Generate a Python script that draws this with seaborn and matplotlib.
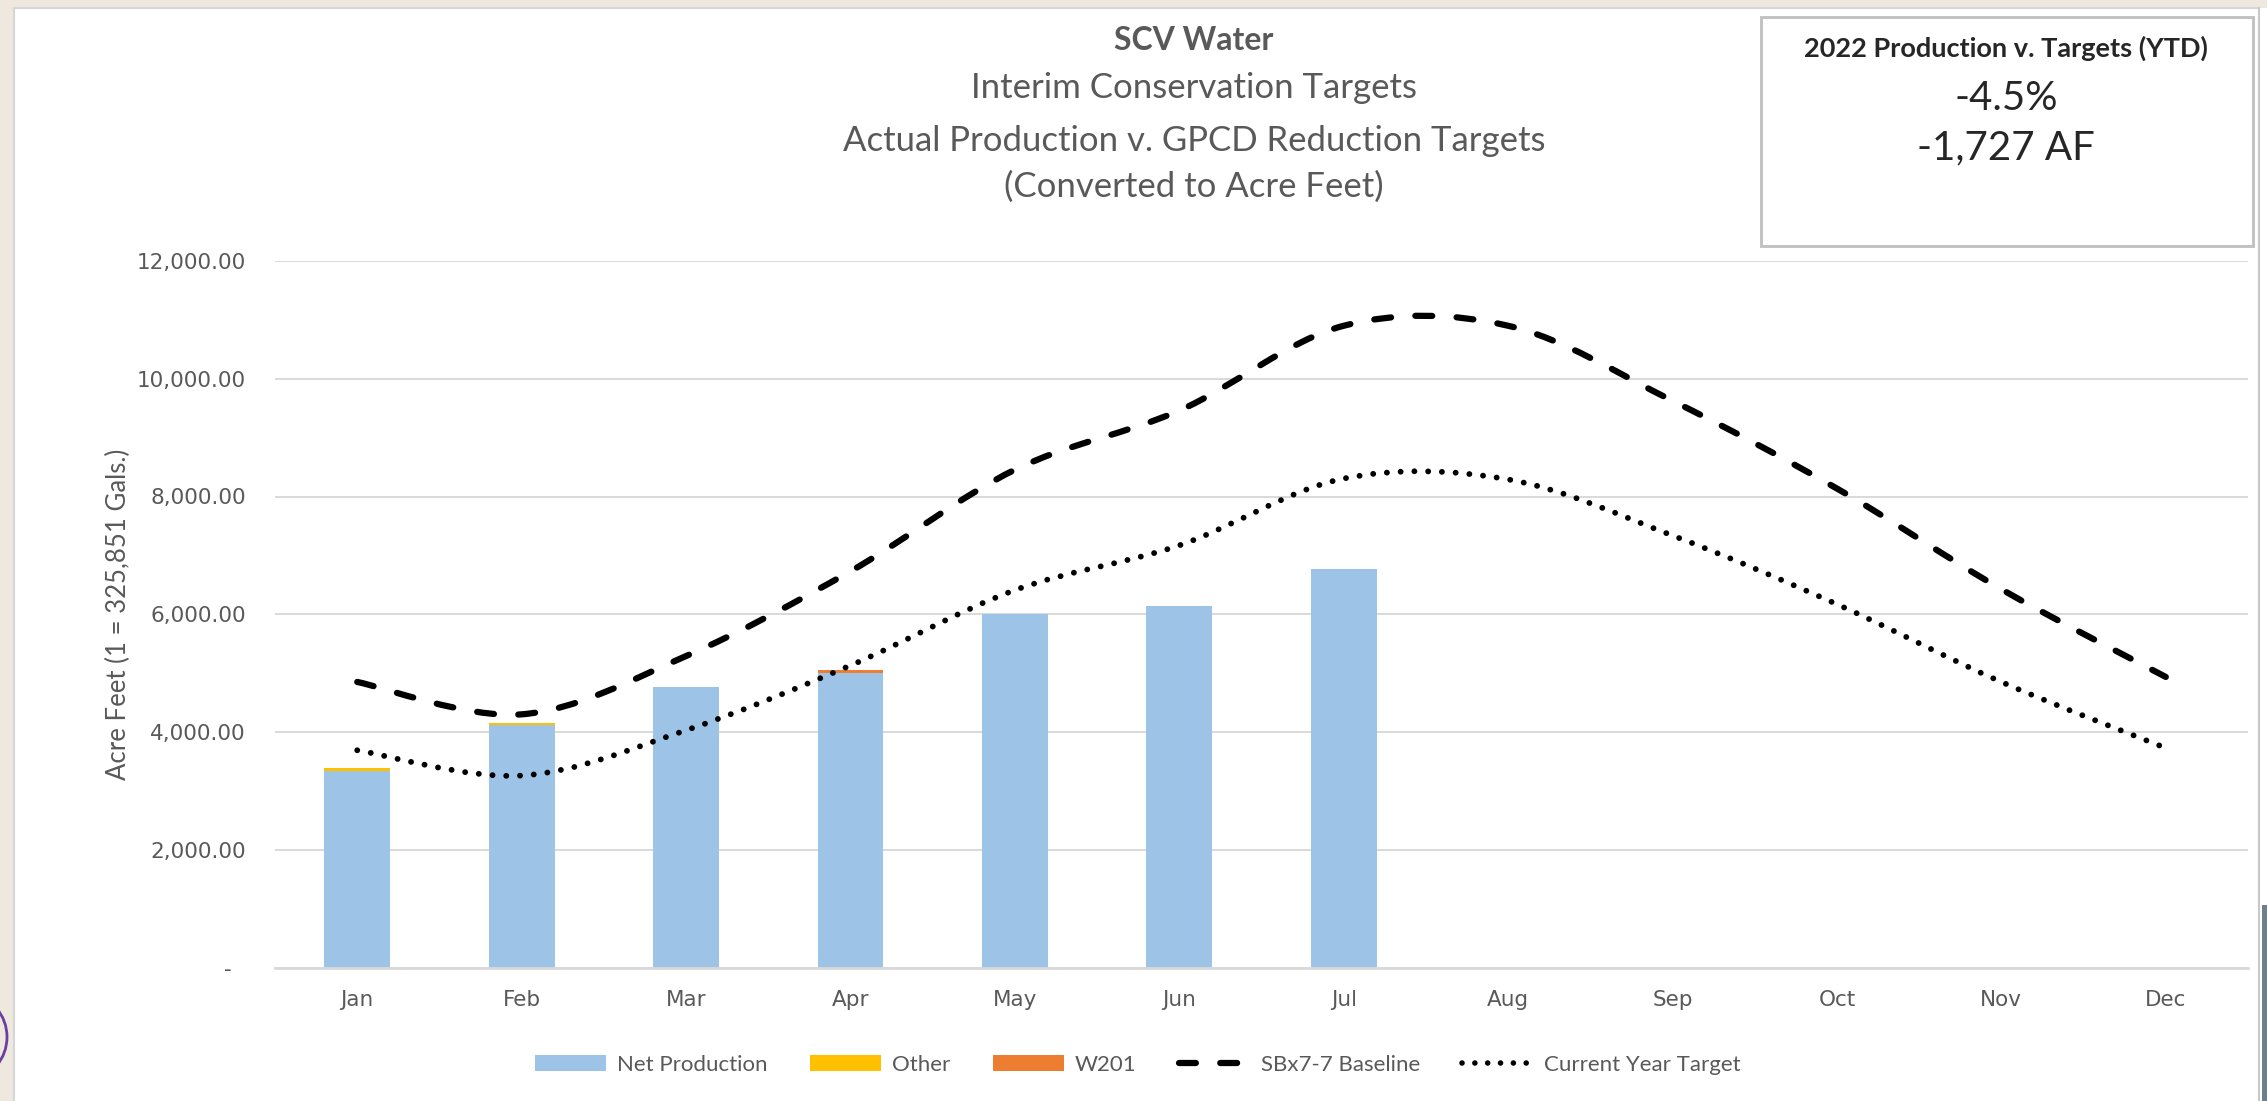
import numpy as np
import pandas as pd
import matplotlib
matplotlib.use("Agg")
import matplotlib.pyplot as plt
import seaborn as sns
from matplotlib.path import Path
from matplotlib.patches import PathPatch, Rectangle, Ellipse
from matplotlib.lines import Line2D
from matplotlib.ticker import FuncFormatter, FixedLocator

# ---------------- data ----------------
months = ["Jan", "Feb", "Mar", "Apr", "May", "Jun", "Jul", "Aug", "Sep", "Oct", "Nov", "Dec"]
net_production = [3340, 4120, 4770, 5010, 6010, 6135, 6765, np.nan, np.nan, np.nan, np.nan, np.nan]
other = [45, 40, 0, 0, 0, 0, 0, np.nan, np.nan, np.nan, np.nan, np.nan]
w201 = [0, 0, 0, 40, 0, 0, 0, np.nan, np.nan, np.nan, np.nan, np.nan]
sbx77_baseline = [4850, 4300, 5290, 6730, 8455, 9460, 10900, 10900, 9625, 8135, 6425, 4935]
current_year_target = [3690, 3260, 4030, 5130, 6410, 7170, 8305, 8290, 7337, 6170, 4850, 3728]
y_ticks = [0, 2000, 4000, 6000, 8000, 10000, 12000]

title_lines = ["SCV Water", "Interim Conservation Targets",
               "Actual Production v. GPCD Reduction Targets", "(Converted to Acre Feet)"]
box_lines = ["2022 Production v. Targets (YTD)", "-4.5%", "-1,727 AF"]
y_label = "Acre Feet (1 = 325,851 Gals.)"
legend_labels = ["Net Production", "Other", "W201", "SBx7-7 Baseline", "Current Year Target"]

C_NET = "#9DC3E6"
C_OTHER = "#FFC000"
C_W201 = "#ED7D31"
GRAY = "#595959"

# ---------------- figure ----------------
sns.set_theme(style="white")
plt.rcParams["font.family"] = ["Lato", "DejaVu Sans"]

W, H = 2267, 1101
fig = plt.figure(figsize=(W / 100, H / 100), dpi=100, facecolor="white")


def fx(px):
    return px / W


def fy(py):
    return 1 - py / H


# page decorations
fig.add_artist(Rectangle((0, 0), fx(14), 1, transform=fig.transFigure,
                         facecolor="#EEE8DF", edgecolor="none", zorder=0))
fig.add_artist(Rectangle((0, fy(8)), 1, fy(0) - fy(8), transform=fig.transFigure,
                         facecolor="#EEE8DF", edgecolor="none", zorder=0))
fig.add_artist(Line2D([fx(14), fx(14)], [0, fy(8)], transform=fig.transFigure,
                      color="#D6D6D6", lw=1.5))
fig.add_artist(Line2D([fx(14), fx(2259)], [fy(8), fy(8)], transform=fig.transFigure,
                      color="#D6D6D6", lw=1.5))
fig.add_artist(Line2D([fx(2259), fx(2259)], [0, fy(8)], transform=fig.transFigure,
                      color="#C8C8C8", lw=1.5))
fig.add_artist(Rectangle((fx(2262), 0), fx(5), fy(905), transform=fig.transFigure,
                         facecolor="#6E7F8E", edgecolor="none"))
fig.add_artist(Ellipse((fx(-28), fy(1037)), fx(70), 80 / H, transform=fig.transFigure,
                       facecolor="none", edgecolor="#6B3FA0", lw=2))

# axes
ax_left, ax_right, ax_bottom, ax_top = 275, 2248, 967.5, 261
ax = fig.add_axes([fx(ax_left), fy(ax_bottom), fx(ax_right - ax_left), (ax_bottom - ax_top) / H])
ax.set_facecolor("white")

df = pd.DataFrame({
    "month": months,
    "net": net_production,
    "other": other,
    "w201": w201,
})
df["lvl2"] = df["net"] + df["other"]
df["lvl3"] = df["lvl2"] + df["w201"]

for col, colr in [("lvl3", C_W201), ("lvl2", C_OTHER), ("net", C_NET)]:
    sns.barplot(data=df, x="month", y=col, order=months, color=colr, width=0.4,
                saturation=1, errorbar=None, ax=ax, zorder=2, linewidth=0)


def smooth_path(xs, ys):
    pts = np.column_stack([xs, ys]).astype(float)
    n = len(pts)
    verts = [pts[0]]
    codes = [Path.MOVETO]
    for i in range(n - 1):
        p0 = pts[i - 1] if i > 0 else pts[i]
        p1 = pts[i]
        p2 = pts[i + 1]
        p3 = pts[i + 2] if i + 2 < n else pts[i + 1]
        c1 = p1 + (p2 - p0) / 6.0
        c2 = p2 - (p3 - p1) / 6.0
        verts += [c1, c2, p2]
        codes += [Path.CURVE4] * 3
    return Path(verts, codes)


xpos = np.arange(len(months))
dash_style = (0, (2.7, 3.9))
dot_style = (0, (0.01, 2.35))
ax.add_patch(PathPatch(smooth_path(xpos, sbx77_baseline), fill=False, edgecolor="black",
                       lw=4.5, linestyle=dash_style, capstyle="round", zorder=3))
ax.add_patch(PathPatch(smooth_path(xpos, current_year_target), fill=False, edgecolor="black",
                       lw=4.2, linestyle=dot_style, capstyle="round", zorder=3))

ax.set_xlim(-0.5, 11.5)
ax.set_ylim(0, 12000)
ax.yaxis.set_major_locator(FixedLocator(y_ticks))
ax.yaxis.set_major_formatter(FuncFormatter(lambda v, p: "-  " if v == 0 else f"{v:,.2f}"))
ax.grid(axis="y", color="#D9D9D9", lw=1.4, zorder=0)
ax.grid(axis="x", visible=False)
ax.set_axisbelow(True)
for s in ["top", "right", "left"]:
    ax.spines[s].set_visible(False)
ax.spines["bottom"].set_color("#D9D9D9")
ax.spines["bottom"].set_linewidth(2)
ax.tick_params(axis="y", length=0, pad=21, labelsize=15.5, labelcolor=GRAY)
ax.tick_params(axis="x", length=0, pad=16, labelsize=15.5, labelcolor=GRAY)
for lab in ax.get_xticklabels() + ax.get_yticklabels():
    lab.set_fontfamily("DejaVu Sans")
ax.set_xlabel("")
ax.set_ylabel(y_label, fontsize=18.5, color=GRAY)
ax.yaxis.set_label_coords(-0.073, 0.5)

# title
fig.text(fx(1194), fy(41), title_lines[0], ha="center", va="center", fontsize=23,
         fontweight="bold", color=GRAY)
for txt, yy in zip(title_lines[1:], [88, 141, 187]):
    fig.text(fx(1194), fy(yy), txt, ha="center", va="center", fontsize=25, color=GRAY)

# info box
fig.add_artist(Rectangle((fx(1761), fy(246)), fx(2253 - 1761), (246 - 17) / H,
                         transform=fig.transFigure, facecolor="white",
                         edgecolor="#BFBFBF", lw=2))
fig.text(fx(2006), fy(48), box_lines[0], ha="center", va="center", fontsize=19.5,
         fontweight="bold", color="#262626")
fig.text(fx(2006), fy(99), box_lines[1], ha="center", va="center", fontsize=29, color="#262626")
fig.text(fx(2006), fy(148), box_lines[2], ha="center", va="center", fontsize=29, color="#262626")

# legend
handles = [
    Rectangle((0, 0), 1, 1, facecolor=C_NET, edgecolor="none"),
    Rectangle((0, 0), 1, 1, facecolor=C_OTHER, edgecolor="none"),
    Rectangle((0, 0), 1, 1, facecolor=C_W201, edgecolor="none"),
    Line2D([], [], color="black", lw=4.5, linestyle=dash_style, dash_capstyle="round"),
    Line2D([], [], color="black", lw=4.0, linestyle=(0, (0.01, 2.3)), dash_capstyle="round"),
]
leg = fig.legend(handles, legend_labels, loc="center", bbox_to_anchor=(fx(1138), fy(1065)),
                 ncol=5, frameon=False, fontsize=16, handlelength=3.2, handleheight=0.7,
                 handletextpad=0.5, columnspacing=1.9, labelcolor=GRAY)

fig.savefig("out.png", dpi=100, facecolor="white")
